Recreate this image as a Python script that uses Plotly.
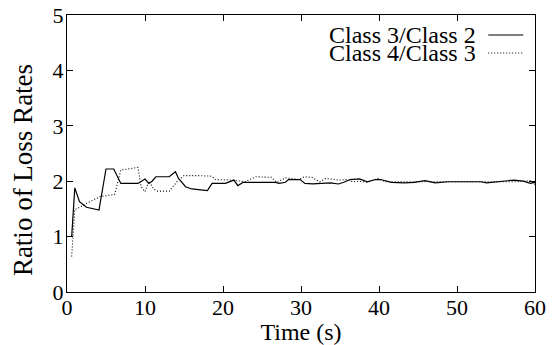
import plotly.graph_objects as go

# Ratio of loss rates between adjacent service classes over time
t_32 = [0.6, 1.0, 1.6, 2.5, 4.1, 5.0, 6.0, 6.9, 9.1, 10.0, 10.5, 10.9, 11.4, 13.1,
        13.9, 14.3, 15.2, 16.0, 18.0, 18.6, 20.3, 21.0, 21.4, 21.9, 22.6, 26.7,
        27.2, 28.0, 28.4, 29.9, 30.5, 31.5, 32.6, 33.8, 34.8, 35.5, 36.3, 37.5,
        38.5, 39.5, 40.2, 41.6, 43.3, 44.5, 45.9, 47.2, 48.9, 53.0, 53.8, 55.0,
        57.3, 58.5, 59.4, 60.0]
ratio_32 = [1.0, 1.88, 1.63, 1.53, 1.48, 2.22, 2.22, 1.96, 1.96, 2.04, 1.96, 2.0,
            2.08, 2.08, 2.17, 2.05, 1.9, 1.86, 1.83, 1.96, 1.96, 2.0, 2.02, 1.92,
            1.98, 1.98, 1.96, 1.98, 2.03, 2.03, 1.96, 1.95, 1.96, 1.97, 1.95, 1.98,
            2.03, 2.04, 1.99, 2.03, 2.03, 1.98, 1.97, 1.98, 2.01, 1.97, 1.99, 1.99,
            1.97, 1.99, 2.02, 2.0, 1.96, 1.98]

t_43 = [0.6, 1.0, 1.5, 2.5, 4.2, 6.1, 6.9, 9.1, 9.5, 10.0, 10.5, 11.1, 11.6, 13.1,
        14.1, 15.0, 16.9, 18.6, 19.0, 21.2, 22.8, 24.2, 26.2, 26.9, 28.0, 29.8,
        30.4, 31.4, 32.4, 33.2, 34.9, 35.8, 36.6, 37.4, 38.5, 39.9, 40.7, 42.0,
        44.0, 46.0, 50.0, 52.0, 55.0, 57.5, 59.4, 60.0]
ratio_43 = [0.64, 1.49, 1.52, 1.6, 1.72, 1.76, 2.2, 2.25, 1.9, 1.81, 2.0, 1.86,
            1.82, 1.82, 1.99, 2.1, 2.1, 2.09, 2.03, 2.02, 1.99, 2.08, 2.07, 1.98,
            2.06, 2.03, 2.08, 2.07, 1.99, 2.05, 2.02, 2.03, 1.99, 2.0, 1.98, 2.05,
            1.99, 1.99, 1.99, 1.99, 1.99, 1.99, 1.98, 1.99, 2.01, 1.94]

series_names = ["Class 3/Class 2", "Class 4/Class 3"]
x_ticks = [0, 10, 20, 30, 40, 50, 60]
y_ticks = [0, 1, 2, 3, 4, 5]

FONT = "Liberation Serif"
DOTTED = "1px,2px"

fig = go.Figure()
fig.add_trace(go.Scatter(x=t_32, y=ratio_32, mode="lines", name=series_names[0],
                         line=dict(color="black", width=1.2)))
fig.add_trace(go.Scatter(x=t_43, y=ratio_43, mode="lines", name=series_names[1],
                         line=dict(color="black", width=1.1, dash=DOTTED)))

axis_common = dict(showline=True, linecolor="black", linewidth=1, mirror="ticks",
                   ticks="inside", ticklen=6, tickcolor="black", showgrid=False,
                   zeroline=False, automargin=False,
                   tickfont=dict(family=FONT, size=22, color="black"))

fig.update_xaxes(range=[0, 60], tickvals=x_ticks, ticklabelstandoff=-4,
                 title=dict(text="Time (s)", standoff=0,
                            font=dict(family=FONT, size=24, color="black")),
                 **axis_common)
fig.update_yaxes(range=[0, 5], tickvals=y_ticks, ticklabelstandoff=-2,
                 **axis_common)

# Vertical axis label, sitting slightly below the middle of the axis
fig.add_annotation(x=(23 - 67) / 468, y=0.44, xref="paper", yref="paper",
                   text="Ratio of Loss Rates", showarrow=False, textangle=-90,
                   xanchor="center", yanchor="middle",
                   font=dict(family=FONT, size=27, color="black"))

# Key in the upper-right corner: text right-aligned, line sample to its right
key_rows = [0.928, 0.863]
key_dash = ["solid", DOTTED]
for name, yk, dash in zip(series_names, key_rows, key_dash):
    fig.add_annotation(x=0.878, y=yk, xref="paper", yref="paper", text=name,
                       showarrow=False, xanchor="right", yanchor="middle",
                       font=dict(family=FONT, size=24, color="black"))
    fig.add_shape(type="line", xref="paper", yref="paper", x0=0.900, x1=0.975,
                  y0=yk, y1=yk, line=dict(color="black", width=1.1, dash=dash))

fig.update_layout(width=554, height=345, showlegend=False,
                  margin=dict(l=67, r=19, t=15, b=53),
                  plot_bgcolor="white", paper_bgcolor="white",
                  font=dict(family=FONT, color="black"))

fig.write_html("out.html")
